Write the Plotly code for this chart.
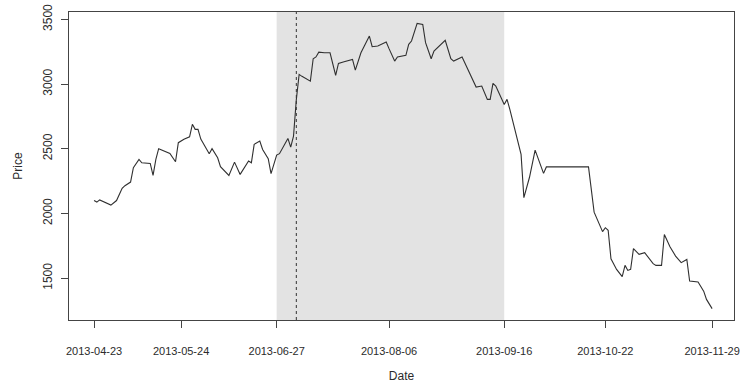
import plotly.graph_objects as go
import pandas as pd

# Daily closing prices
dates = [
    "2013-04-23", "2013-04-24", "2013-04-25", "2013-04-27", "2013-04-29", "2013-05-01",
    "2013-05-03", "2013-05-04", "2013-05-06", "2013-05-07", "2013-05-09", "2013-05-10",
    "2013-05-13", "2013-05-14", "2013-05-15", "2013-05-16", "2013-05-18", "2013-05-20",
    "2013-05-22", "2013-05-23", "2013-05-25", "2013-05-27", "2013-05-28", "2013-05-29",
    "2013-05-30", "2013-05-31", "2013-06-03", "2013-06-04", "2013-06-06", "2013-06-07",
    "2013-06-10", "2013-06-12", "2013-06-14", "2013-06-16", "2013-06-17", "2013-06-18",
    "2013-06-19", "2013-06-21", "2013-06-22", "2013-06-24", "2013-06-25", "2013-06-27",
    "2013-06-28", "2013-07-01", "2013-07-02", "2013-07-03", "2013-07-04", "2013-07-05",
    "2013-07-06", "2013-07-09", "2013-07-10", "2013-07-11", "2013-07-12", "2013-07-14",
    "2013-07-16", "2013-07-18", "2013-07-19", "2013-07-21", "2013-07-24", "2013-07-25",
    "2013-07-27", "2013-07-30", "2013-07-31", "2013-08-02", "2013-08-05", "2013-08-06",
    "2013-08-08", "2013-08-09", "2013-08-12", "2013-08-13", "2013-08-14", "2013-08-16",
    "2013-08-18", "2013-08-19", "2013-08-21", "2013-08-22", "2013-08-25", "2013-08-26",
    "2013-08-28", "2013-08-29", "2013-09-01", "2013-09-04", "2013-09-06", "2013-09-08",
    "2013-09-10", "2013-09-11", "2013-09-12", "2013-09-13", "2013-09-16", "2013-09-17",
    "2013-09-18", "2013-09-22", "2013-09-23", "2013-09-25", "2013-09-27", "2013-09-30",
    "2013-10-01", "2013-10-16", "2013-10-18", "2013-10-21", "2013-10-22", "2013-10-23",
    "2013-10-24", "2013-10-26", "2013-10-28", "2013-10-29", "2013-10-30", "2013-10-31",
    "2013-11-01", "2013-11-03", "2013-11-05", "2013-11-08", "2013-11-09", "2013-11-11",
    "2013-11-12", "2013-11-14", "2013-11-16", "2013-11-18", "2013-11-20", "2013-11-21",
    "2013-11-24", "2013-11-26", "2013-11-27", "2013-11-29",
]
prices = [
    2100, 2088, 2105, 2083, 2065, 2100,
    2195, 2215, 2243, 2354, 2418, 2392,
    2387, 2294, 2418, 2501, 2482, 2464,
    2400, 2547, 2573, 2593, 2689, 2650,
    2650, 2575, 2462, 2501, 2431, 2362,
    2294, 2397, 2302, 2366, 2405, 2392,
    2534, 2560, 2495, 2423, 2308, 2451,
    2462, 2580, 2513, 2598, 2880, 3075,
    3060, 3023, 3196, 3210, 3247, 3242,
    3242, 3067, 3160, 3173, 3191, 3108,
    3242, 3371, 3289, 3294, 3325, 3274,
    3178, 3209, 3222, 3307, 3333, 3469,
    3461, 3320, 3196, 3255, 3320, 3338,
    3196, 3178, 3209, 3062, 2977, 2985,
    2882, 2882, 3005, 2985, 2843, 2882,
    2804, 2457, 2122, 2280, 2490, 2310,
    2360, 2360, 2010, 1860, 1890, 1870,
    1650, 1568, 1512, 1599, 1560, 1568,
    1728, 1684, 1697, 1612, 1599, 1599,
    1838, 1743, 1671, 1620, 1645, 1478,
    1470, 1400, 1336, 1265,
]

# Highlighted period and event marker
period_start = "2013-06-27"
period_end = "2013-09-16"
event_date = "2013-07-04"

# Axis ticks
x_ticks = ["2013-04-23", "2013-05-24", "2013-06-27", "2013-08-06",
           "2013-09-16", "2013-10-22", "2013-11-29"]
y_ticks = [1500, 2000, 2500, 3000, 3500]

dt = pd.to_datetime(dates)
x_range = [dt.min() - pd.Timedelta(hours=214), dt.max() + pd.Timedelta(hours=187)]
pr = max(prices) - min(prices)
y_range = [min(prices) - 0.04 * pr, max(prices) + 0.04 * pr]

ink = "#2b2b2b"
font = dict(family="Liberation Sans, Arial, sans-serif", size=12, color=ink)
xtick_font = dict(family="Liberation Sans, Arial, sans-serif", size=11, color=ink)

fig = go.Figure()
fig.add_trace(go.Scatter(
    x=dt, y=prices, mode="lines",
    line=dict(color="#303030", width=1.1),
    hoverinfo="x+y", showlegend=False,
))

fig.add_shape(type="rect", xref="x", yref="paper",
              x0=period_start, x1=period_end, y0=0, y1=1,
              fillcolor="#e3e3e3", line_width=0, layer="below")
fig.add_shape(type="line", xref="x", yref="paper",
              x0=event_date, x1=event_date, y0=0, y1=1,
              line=dict(color="#333333", width=1, dash="dot"))

axis_common = dict(
    showline=True, mirror=True, linecolor="#444444", linewidth=1,
    ticks="outside", ticklen=7, tickcolor="#444444", tickwidth=1,
    showgrid=False, zeroline=False, automargin=False,
)

fig.update_layout(
    width=740, height=385,
    margin=dict(l=69, r=6, t=12, b=65),
    paper_bgcolor="white", plot_bgcolor="white",
    font=font,
    xaxis=dict(
        type="date", range=x_range,
        tickmode="array", tickvals=pd.to_datetime(x_ticks), ticktext=x_ticks,
        tickfont=xtick_font,
        title=dict(text="Date", font=font, standoff=15),
        ticklabelstandoff=14, ticklabeloverflow="allow",
        **axis_common,
    ),
    yaxis=dict(
        range=y_range,
        tickmode="array", tickvals=y_ticks, ticktext=[str(v) for v in y_ticks],
        tickfont=font, tickangle=-90,
        title=dict(text="Price", font=font, standoff=16),
        ticklabelstandoff=4,
        **axis_common,
    ),
)

fig.write_html("out.html")
